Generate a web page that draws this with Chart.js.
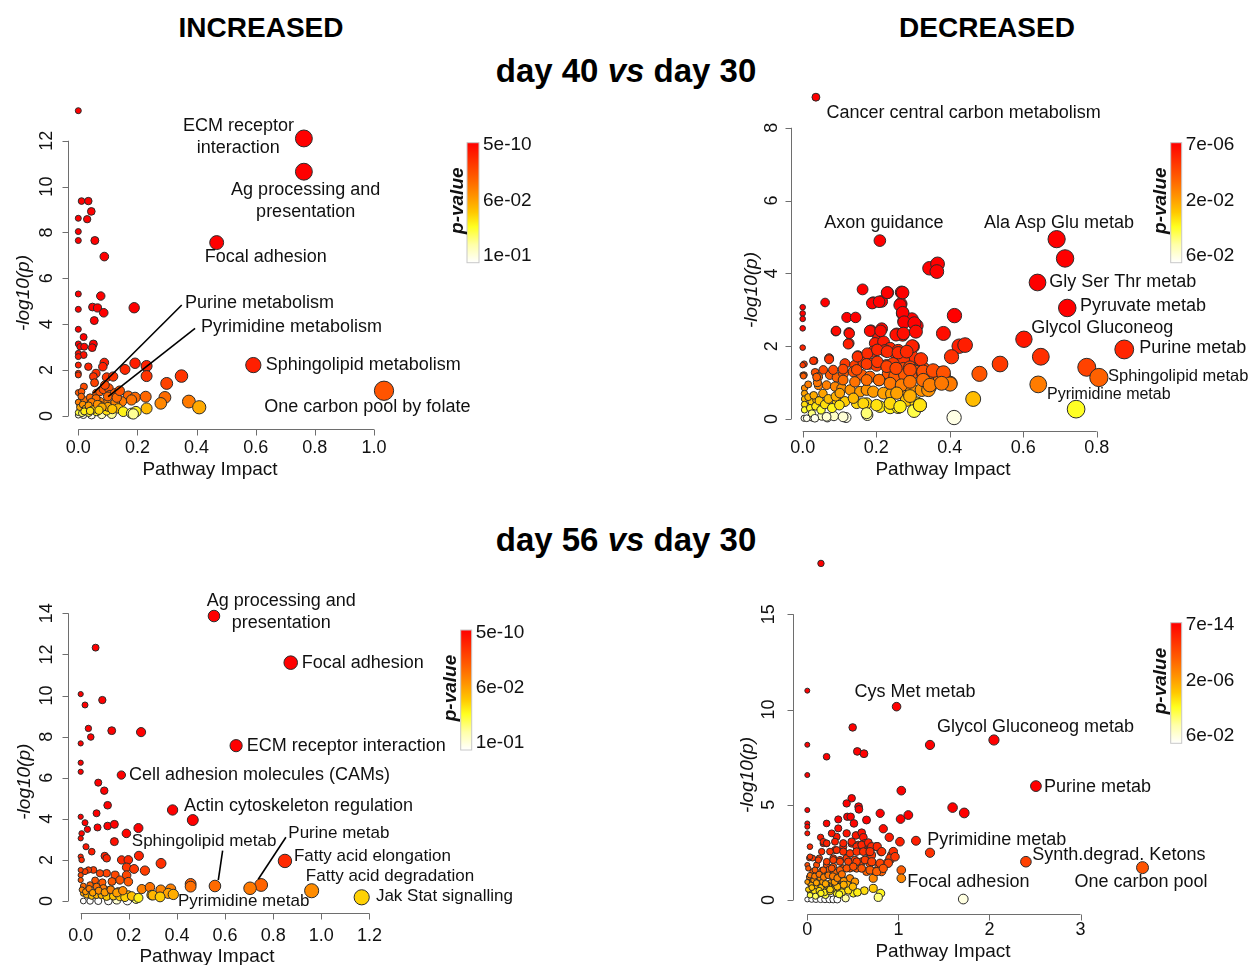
<!DOCTYPE html>
<html><head><meta charset="utf-8">
<script src="https://cdn.jsdelivr.net/npm/chart.js@4.4.1/dist/chart.umd.min.js"></script>
<style>
html,body{margin:0;padding:0;background:#fff;}
body{width:1253px;height:965px;overflow:hidden;position:relative;font-family:"Liberation Sans",Arial,sans-serif;color:#000;}
.t{position:absolute;font-weight:bold;white-space:nowrap;line-height:1;transform:translateX(-50%);}
canvas{position:absolute;left:0;top:0;}
</style></head>
<body>
<div class="t" style="left:261px;top:14px;font-size:28px">INCREASED</div>
<div class="t" style="left:987px;top:14px;font-size:28px">DECREASED</div>
<div class="t" style="left:626px;top:54px;font-size:33px">day 40 <i>vs</i> day 30</div>
<div class="t" style="left:626px;top:523px;font-size:33px">day 56 <i>vs</i> day 30</div>
<canvas id="c1" width="1253" height="965"></canvas>
<canvas id="c2" width="1253" height="965"></canvas>
<canvas id="c3" width="1253" height="965"></canvas>
<canvas id="c4" width="1253" height="965"></canvas>
<script>
// ================= DATA =================
// Panel 1: INCREASED, day 40 vs day 30
const inc40X = [0.763,0.763,0.468,0.592,1.034,0,
 0.011,0.034,0.044,0,0.03,0,0,0.056,0.088,
 0,0.076,0,0.048,0.065,0.086,0.189,0.054,
 0,0.018,0,0.006,0.02,0.051,0.047,0,0.018,0,
 0.034,0,0,0,0.088,0.083,0.192,0.231,0.231,0.158,0.06,0.051,0.096,0.118,0.349,0.299,0.019,0.055,
 0,0.011,0.062,0.073,0.085,0.103,0.107,0.124,0.169,0.192,0.18,0.228,0.293,0.279,0.374,0.409,0.231,0.147,0.124,0.096,0.073,0.051,
 0.09,0.1,0.13,0.14,
 0.135,0.152,0.18,0.195,0.186,0.113,0.079,0.045,0.017,0,
 0.006,0.011,0.023,0.03,0.04,0.053,0.068,0.085,0.028,0.006,0.062,0.096,0,0,0.012,0.035,0.02,0.04,0.01,0.06,0.1,0.115,0.075,0.045,
 0.005,0.015,0.025,0.035,0.05,0.065,0.08,0.02,0.04,0.07];
const inc40Y = [12.1,10.65,7.56,2.22,1.10,13.31,
 9.37,9.37,8.92,8.62,8.58,8.04,7.65,7.65,6.95,
 5.32,5.23,4.65,4.75,4.71,4.5,4.72,4.16,
 3.78,3.44,3.14,3.02,3.02,3.14,2.98,2.73,2.66,2.59,
 2.15,2.22,1.86,1.79,2.33,2.15,2.30,2.18,1.74,2.03,1.86,1.72,1.69,1.72,1.74,1.42,1.28,1.45,
 1.02,1.06,0.99,1.06,1.16,1.21,0.92,0.99,0.87,0.81,0.7,0.84,0.81,0.55,0.63,0.38,0.33,0.63,0.55,0.55,0.63,0.55,
 1.35,0.85,0.8,1.1,
 0.33,0.19,0.12,0.19,0.09,0.09,0.07,0.04,0.04,0.04,
 0.48,0.33,0.41,0.55,0.33,0.41,0.29,0.33,0.23,0.26,0.19,0.23,0.6,0.15,0.12,0.14,0.7,0.8,0.85,0.75,0.4,0.3,0.45,0.6,
 0.38,0.5,0.32,0.45,0.28,0.5,0.38,0.2,0.22,0.25];

// Panel 2: DECREASED, day 40 vs day 30
const dec40X = [0.036,0.21,0.691,0.714,0.639,0.72,0.602,0.875,0.648,0.773,0.806,0.641,0.744,0.537,0.481,0.464,0.412,
 0.345,0.367,0.365,0.413,0.383,0.426,0.442,0.405,0.3,0.163,0.061,0.192,0.215,0.231,0.269,0.267,0.272,0.276,0.297,0.31,0.272,0.256,0.12,0.144,0.126,0.126,0.09,0.186,0.215,0.206,0.197,0.22,0.238,0.224,0.26,0.256,0.15,0.192,0.319,0.297,0.274,0.031,0.072,
 0.115,0.142,0.165,0.183,0.201,0.228,0.246,0.274,0.292,0.31,0.328,
 0.004,0.004,0.034,0.043,
 0.074,0.093,0.111,0.138,0.161,0.183,0.208,0.233,0.251,0.278,0.306,0.328,0.346,0.376,0.383,0.401,0.346,0.374,
 0.043,0.065,0.088,0.106,0.129,0.156,0.174,0.192,0.22,0.242,0.274,0.297,0.324,0.342,
 0.024,0.038,0.065,0.093,0.115,0.147,0.174,0.21,0.238,0.26,0.283,0.31,0.303,0.319,
 0.004,0.027,0.052,0.067,0.085,0.118,0.176,
 0,0,0,0,0,0,0,
 0.005,0.005,0.005,0.005,0.005,0.015,0.02,0.025,0.03,0.035,0.045,0.05,0.055,0.06,0.07,0.08,0.09,0.1,0.015,0.04,
 0.189,0.208,0.23,0.272,0.265,0.272,0.276,0.304,0.308,0.183,0.212,0.254,0.274,0.298,0.127,0.124,0.091,
 0.149,0.176,0.203,0.23,0.26,0.283,0.322,0.072,0.029,
 0.11,0.147,0.174,0.203,0.229,0.254,0.292,0.328,0.355,0.383,0.401,0.002,0.038,0.083,0.056,
 0.11,0.142,0.174,0.208,0.238,0.269,0.292,0.328,0.346,0.378,
 0.101,0.138,0.165,0.201,0.238,0.265,0.292,0.319,0.256,
 0.011,0.033,0.065,0.11,0.174];
const dec40Y = [8.84,4.9,4.94,4.41,3.75,3.05,2.19,1.91,1.71,1.42,1.14,0.95,0.27,1.51,1.24,0.55,0.04,
 4.14,4.26,4.05,2.84,2.35,2.0,2.03,1.71,1.99,3.56,3.2,3.2,3.23,3.47,3.48,3.16,2.9,2.69,2.74,2.56,2.31,2.33,2.79,2.79,2.37,2.08,2.41,2.43,2.48,2.24,2.08,2.12,1.94,1.88,1.88,1.76,1.73,1.85,1.62,1.71,1.62,1.6,1.67,
 1.52,1.47,1.56,1.52,1.47,1.47,1.52,1.38,1.42,1.33,1.38,
 1.51,1.21,1.28,1.16,
 1.21,1.14,1.25,1.30,1.21,1.16,1.07,1.25,1.18,1.21,1.30,1.25,1.16,1.25,1.18,0.98,0.89,1.07,
 0.92,0.93,0.89,0.84,0.80,0.75,0.80,0.75,0.71,0.69,0.84,0.80,0.80,0.80,
 0.48,0.52,0.43,0.48,0.48,0.43,0.43,0.34,0.31,0.32,0.52,0.43,0.22,0.38,
 0.02,0.04,0.08,0.04,0.08,0.04,0.11,
 3.07,2.9,2.75,2.49,1.96,1.48,1.21,
 0.85,0.7,0.55,0.4,0.25,0.6,0.3,0.15,0.65,0.35,0.5,0.25,0.7,0.4,0.55,0.3,0.62,0.38,0.95,1.0,
 3.18,3.22,3.47,3.47,3.13,2.92,2.66,2.63,2.40,2.42,2.42,2.31,2.35,2.0,2.35,2.06,2.42,
 1.71,1.80,1.90,1.85,1.82,1.85,1.64,1.64,1.60,
 1.37,1.35,1.51,1.57,1.44,1.39,1.35,1.30,1.33,1.27,0.96,1.18,1.15,1.35,1.35,
 1.07,1.02,1.07,1.07,0.98,0.93,1.02,1.07,0.93,0.98,
 0.71,0.57,0.43,0.38,0.43,0.34,0.63,0.38,0.71,
 0.02,0.02,0.06,0.06,0.16];

// Panel 3: INCREASED, day 56 vs day 30
const inc56X = [0.554,0.873,0.646,0.169,0.382,0.466,0.849,0.75,0.704,0.558,0.457,0.457,0.96,1.168,
 0.062,0,0.018,0.09,0.032,0.042,0.129,0.251,0,0,0,0.073,0.098,0.112,0.066,0,0.018,0.028,0.004,0,0.07,0.112,0.14,0.24,0.19,0.14,0.022,0.046,0,0.004,0.1,0.108,0.17,0.198,0.242,0.334,0.191,0.222,0.267,
 0.191,0.143,0.108,0.08,0.053,0.032,0.018,0,0,0,0.198,0.163,0.06,0.09,0.13,
 0.254,0.288,0.333,0.374,0.364,0.385,0.295,0.233,0.198,0.157,0.122,0.094,0.066,0.039,0.011,
 0.011,0.039,0.073,0.115,0.15,0.194,0.23,
 0.011,0.025,0.046,0.066,0.087,0.108,0.136,0.163,0.184,0.212,0.3,0.33,0.24,
 0.005,0.02,0.035,0.05,0.075,0.1,0.125,0.15,0.175];
const inc56Y = [13.87,11.6,7.56,6.13,4.43,3.94,1.95,0.78,0.62,0.73,0.83,0.70,0.5,0.18,
 12.33,10.07,9.54,9.78,8.4,7.98,8.29,8.22,7.67,6.73,6.29,5.76,5.37,4.66,4.27,4.1,3.81,3.49,3.29,3.05,3.58,3.65,3.73,3.55,3.29,2.89,2.64,2.4,2.16,2.0,2.19,2.08,2.0,2.0,2.2,1.83,1.64,1.56,1.48,
 1.26,1.26,1.35,1.35,1.51,1.51,1.43,1.51,1.26,1.02,0.94,1.02,1.0,0.9,0.95,
 0.58,0.67,0.54,0.58,0.37,0.32,0.29,0.13,0.29,0.45,0.54,0.62,0.70,0.78,0.73,
 0,0,0,0,0.05,0.02,0.1,
 0.37,0.29,0.24,0.29,0.29,0.21,0.24,0.21,0.18,0.24,0.28,0.2,0.15,
 0.55,0.45,0.6,0.4,0.5,0.42,0.55,0.4,0.5];

// Panel 4: DECREASED, day 56 vs day 30
const dec56X = [0.15,0.98,0.498,2.049,1.347,0.549,0.622,0.212,2.51,1.032,1.595,1.723,1.024,1.109,0.80,0.834,0.9,1.193,1.347,1.017,2.4,3.68,1.032,1.032,1.712,
 0,0,0,0,0,0,0,
 0.487,0.432,0.563,0.567,0.439,0.476,0.512,0.65,0.34,0.212,
 0.34,0.432,0.534,0.597,0.615,0.146,0.176,0.212,0.322,0.029,
 0.304,0.395,0.487,0.56,0.633,0.659,0.706,0.761,0.809,0.615,
 0.022,0.059,0.132,
 0.285,0.359,0.432,0.523,0.596,0.688,0.787,0.907,0.926,0.944,0.871,
 0,0.102,0.212,0.285,0.395,0.468,0.541,0.651,0.743,0.816,0.724,
 0.029,0.102,0.176,0.249,0.322,0.395,0.468,0.523,0.45,0.377,0.285,0.194,0.102,0.029,0.322,0.505,0.626,0.724,0.805,0.779,0.421,
 0,0.048,0.095,0.146,0.194,0.242,0.285,0.329,
 0.02,0.06,0.1,0.14,0.18,0.22,0.26,0.05,0.12,0.2,0.28,0.32,0.06,0.16,0.24,0.3,0.36,0.4,0.44,
 0.01,0.04,0.08,0.11,0.15,0.19,0.23,0.27,0.31,0.35,0.07,0.13,0.17,0.21,0.25,0.29,0.33,0.38,0.03,0.09,
 0.268,0.176,0.213,0.304,0.395,0.487,0.542,0.597,0.67,0.707,
 0.158,0.249,0.323,0.395,0.469,0.542,0.615,0.688,0.768,0.817,0.908,0.963,
 0.03,0.121,0.213,0.285,0.359,0.45,0.542,0.633,0.707,0.798,0.889,
 0.011,0.085,0.176,0.268,0.359,0.432,0.505,0.597,0.688,0.762,0.834,
 0.0,0.05,0.1,0.15,0.2,0.25,0.3,0.35,0.4,0.45,0.5,0.55,0.03,0.08,0.13,0.18,0.23,0.28,0.33,0.38];
const dec56Y = [17.67,10.15,9.06,8.4,8.14,7.8,7.68,7.52,5.98,5.74,4.85,4.57,4.25,4.46,4.55,3.74,3.29,3.11,2.48,3.06,2.01,1.70,1.57,1.14,0.05,
 10.99,8.15,6.56,4.72,4.02,3.85,3.5,
 5.34,5.07,4.9,4.76,4.37,4.37,4.02,4.2,4.23,4.02,
 3.76,3.5,3.39,3.53,3.29,3.29,2.97,2.97,3.32,2.8,
 2.62,2.8,2.97,2.89,2.97,2.54,2.36,2.8,2.54,2.62,
 2.2,2.2,2.2,
 2.19,2.10,2.19,2.10,2.01,1.92,1.84,2.10,2.36,2.54,1.92,
 1.84,1.84,1.84,1.75,1.66,1.66,1.66,1.49,1.49,1.49,1.14,
 0.87,0.87,0.79,0.87,0.96,1.05,1.14,0.96,0.7,0.61,0.52,0.44,0.52,0.44,0.35,0.35,0.49,0.61,0.35,0.14,0.09,
 0.03,0.03,0.03,0.03,0.03,0.03,0.03,0.03,
 1.2,1.0,0.7,1.1,0.6,1.3,0.9,0.6,0.3,0.25,0.7,1.2,1.5,1.55,1.6,1.45,1.3,1.0,0.8,
 0.55,0.8,0.45,0.9,0.65,0.4,0.75,0.55,0.85,0.6,1.05,0.5,0.95,0.8,0.45,1.15,0.7,0.4,0.25,0.2,
 3.5,3.06,2.98,3.06,2.98,3.06,2.8,2.89,3.01,2.8,
 2.54,2.54,2.62,2.54,2.45,2.54,2.54,2.54,2.8,2.54,2.19,2.27,
 2.27,2.1,2.01,2.1,2.01,2.01,2.01,2.1,2.01,1.93,1.93,
 1.66,1.57,1.57,1.66,1.57,1.66,1.75,1.66,1.57,1.49,1.66,
 0.95,0.65,0.9,0.35,0.85,0.55,0.95,0.3,0.8,0.5,0.7,0.4,1.3,1.25,1.35,1.2,1.3,1.25,1.15,1.35];

// Tick values and labels
const inc40XTicks = [0,0.2,0.4,0.6,0.8,1.0];
const inc40XLabels = ['0.0','0.2','0.4','0.6','0.8','1.0'];
const inc40YTicks = [0,2,4,6,8,10,12];
const dec40XTicks = [0,0.2,0.4,0.6,0.8];
const dec40XLabels = ['0.0','0.2','0.4','0.6','0.8'];
const dec40YTicks = [0,2,4,6,8];
const inc56XTicks = [0,0.2,0.4,0.6,0.8,1.0,1.2];
const inc56XLabels = ['0.0','0.2','0.4','0.6','0.8','1.0','1.2'];
const inc56YTicks = [0,2,4,6,8,10,12,14];
const dec56XTicks = [0,1,2,3];
const dec56XLabels = ['0','1','2','3'];
const dec56YTicks = [0,5,10,15];

// Colour-bar labels (top, middle, bottom)
const inc40Bar = ['5e-10','6e-02','1e-01'];
const dec40Bar = ['7e-06','2e-02','6e-02'];
const inc56Bar = ['5e-10','6e-02','1e-01'];
const dec56Bar = ['7e-14','2e-06','6e-02'];

// Pathway labels [text, x, y (data units), align, font size]
const inc40Names = [
 ['ECM receptor',0.542,12.64,'center'],['interaction',0.541,11.67,'center'],
 ['Ag processing and',0.769,9.85,'center'],['presentation',0.769,8.88,'center'],
 ['Focal adhesion',0.634,6.94,'center'],
 ['Purine metabolism',0.361,4.91,'left'],['Pyrimidine metabolism',0.415,3.87,'left'],
 ['Sphingolipid metabolism',0.634,2.21,'left'],['One carbon pool by folate',0.629,0.405,'left']];
const inc40Leaders = [[0.35,4.84,0.0507,0.99],[0.395,3.82,0.101,0.84]];
const dec40Names = [
 ['Cancer central carbon metabolism',0.065,8.40,'left'],
 ['Axon guidance',0.221,5.39,'center'],['Ala Asp Glu metab',0.6975,5.39,'center'],
 ['Gly Ser Thr metab',0.671,3.77,'left'],['Pyruvate metab',0.7546,3.10,'left'],
 ['Glycol Gluconeog',0.815,2.49,'center'],['Purine metab',0.916,1.96,'left'],
 ['Sphingolipid metab',0.831,1.16,'left',16.5],['Pyrimidine metab',0.833,0.68,'center',16]];
const dec40Leaders = [];
const inc56Names = [
 ['Ag processing and',0.834,14.6,'center'],['presentation',0.834,13.51,'center'],
 ['Focal adhesion',0.9185,11.57,'left'],['ECM receptor interaction',0.69,7.54,'left'],
 ['Cell adhesion molecules (CAMs)',0.2007,6.13,'left'],['Actin cytoskeleton regulation',0.4293,4.64,'left'],
 ['Sphingolipid metab',0.513,2.89,'center',17],['Purine metab',0.863,3.29,'left',17],
 ['Fatty acid elongation',0.8865,2.19,'left',17],['Fatty acid degradation',0.936,1.18,'left',17],
 ['Pyrimidine metab',0.6775,0.0,'center',17],['Jak Stat signalling',1.227,0.21,'left',17]];
const inc56Leaders = [[0.59,2.45,0.572,1.02],[0.853,3.10,0.738,1.06]];
const dec56Names = [
 ['Cys Met metab',1.182,10.94,'center'],['Glycol Gluconeog metab',2.505,9.10,'center'],
 ['Purine metab',2.598,5.95,'left'],['Pyrimidine metab',1.317,3.15,'left'],
 ['Synth.degrad. Ketons',2.47,2.36,'left'],['Focal adhesion',1.098,0.96,'left'],
 ['One carbon pool',3.663,0.96,'center']];
const dec56Leaders = [];

// ================= STYLE =================
const W = 1253, H = 965;
const FONT = '"Liberation Sans", Arial, Helvetica, sans-serif';
const GRAD = [[0,[255,0,0]],[0.15,[255,48,0]],[0.3,[255,96,0]],[0.45,[255,149,0]],[0.58,[255,200,0]],[0.7,[255,255,32]],[0.85,[255,255,168]],[1,[255,255,255]]];
function gradAt(t){
  t = Math.max(0, Math.min(1, t));
  for (let i = 0; i < GRAD.length - 1; i++) {
    const a = GRAD[i], b = GRAD[i+1];
    if (t <= b[0]) {
      const f = (t - a[0]) / (b[0] - a[0]);
      const c = a[1].map((v,k)=>Math.round(v + (b[1][k]-v)*f));
      return 'rgb(' + c.join(',') + ')';
    }
  }
  return 'rgb(255,255,255)';
}
function tOfY(y, stops){
  if (y >= stops[0][0]) return stops[0][1];
  for (let i = 0; i < stops.length - 1; i++) {
    const a = stops[i], b = stops[i+1];
    if (y >= b[0]) return a[1] + (b[1]-a[1]) * (a[0]-y)/(a[0]-b[0]);
  }
  return stops[stops.length-1][1];
}

const panels = [
 {id:'c1', xs:inc40X, ys:inc40Y, xTicks:inc40XTicks, xLabels:inc40XLabels, yTicks:inc40YTicks, bar:inc40Bar, names:inc40Names, leaders:inc40Leaders,
  xmin:-0.035, xmax:1.08, ymin:-0.567, ymax:13.75, L:67.95, R:397.6, T:100.6, B:429,
  xLabOff:19, yLabOff:21, xTitle:[210,470], yTitle:[24,293], box:{x:467,y:142.7,w:12,h:120},
  rad:x=>3+6.5*Math.pow(Math.max(x,0),0.65),
  stops:[[3.2,0],[2.2,0.1],[1.6,0.18],[1.0,0.28],[0.6,0.38],[0.35,0.52],[0.2,0.66],[0.1,0.8],[0.03,1]]},
 {id:'c2', xs:dec40X, ys:dec40Y, xTicks:dec40XTicks, xLabels:dec40XLabels, yTicks:dec40YTicks, bar:dec40Bar, names:dec40Names, leaders:dec40Leaders,
  xmin:-0.0318, xmax:0.91, ymin:-0.33, ymax:9.15, L:791, R:1137.1, T:85.9, B:431,
  xLabOff:17, yLabOff:19.3, xTitle:[943,470], yTitle:[751.7,290], box:{x:1170.7,y:142.7,w:11,h:120},
  rad:x=>2.8+6.6*Math.pow(Math.max(x,0)/0.87,0.55),
  stops:[[2.6,0],[2.0,0.1],[1.5,0.18],[1.2,0.28],[0.9,0.4],[0.55,0.55],[0.3,0.68],[0.15,0.8],[0.03,0.97]]},
 {id:'c3', xs:inc56X, ys:inc56Y, xTicks:inc56XTicks, xLabels:inc56XLabels, yTicks:inc56YTicks, bar:inc56Bar, names:inc56Names, leaders:inc56Leaders,
  xmin:-0.0515, xmax:1.22, ymin:-0.584, ymax:14.45, L:68.3, R:374.2, T:604.1, B:913,
  xLabOff:23, yLabOff:21.6, xTitle:[207,956.7], yTitle:[25,781.7], box:{x:460.7,y:630,w:11,h:120},
  rad:x=>2.6+5*Math.pow(Math.max(x,0)/1.17,0.6),
  stops:[[3.5,0],[2.0,0.12],[1.4,0.2],[0.8,0.3],[0.55,0.4],[0.3,0.52],[0.18,0.6],[0.1,0.78],[0.02,1]]},
 {id:'c4', xs:dec56X, ys:dec56Y, xTicks:dec56XTicks, xLabels:dec56XLabels, yTicks:dec56YTicks, bar:dec56Bar, names:dec56Names, leaders:dec56Leaders,
  xmin:-0.1537, xmax:3.85, ymin:-0.735, ymax:18.4, L:793.3, R:1158, T:549.5, B:914,
  xLabOff:16, yLabOff:24, xTitle:[943,951.7], yTitle:[748,775], box:{x:1170.7,y:622.7,w:11,h:120.6},
  rad:x=>2.5+3.5*Math.pow(Math.max(x,0)/3.7,0.5),
  stops:[[4.2,0],[3.0,0.1],[2.0,0.2],[1.5,0.3],[1.0,0.45],[0.6,0.58],[0.35,0.68],[0.1,0.82],[0.03,1]]}
];

function rPlugin(p){
  return {
    id:'rstyle_'+p.id,
    beforeDatasetsDraw(chart){
      const ctx = chart.ctx, a = chart.chartArea, sx = chart.scales.x, sy = chart.scales.y;
      ctx.save();
      ctx.strokeStyle = '#6e6e6e'; ctx.lineWidth = 1;
      const yb = Math.round(a.bottom) + 0.5;
      ctx.beginPath();
      ctx.moveTo(sx.getPixelForValue(p.xTicks[0]), yb);
      ctx.lineTo(sx.getPixelForValue(p.xTicks[p.xTicks.length-1]), yb);
      p.xTicks.forEach(v=>{ const px = Math.round(sx.getPixelForValue(v))+0.5; ctx.moveTo(px,yb); ctx.lineTo(px,yb+6); });
      ctx.stroke();
      const xl = Math.round(a.left) + 0.5;
      ctx.beginPath();
      ctx.moveTo(xl, sy.getPixelForValue(p.yTicks[0]));
      ctx.lineTo(xl, sy.getPixelForValue(p.yTicks[p.yTicks.length-1]));
      p.yTicks.forEach(v=>{ const py = Math.round(sy.getPixelForValue(v))+0.5; ctx.moveTo(xl,py); ctx.lineTo(xl-6,py); });
      ctx.stroke();
      ctx.fillStyle = '#111';
      ctx.font = '18px ' + FONT;
      ctx.textAlign = 'center'; ctx.textBaseline = 'middle';
      p.xTicks.forEach((v,i)=>ctx.fillText(p.xLabels[i], sx.getPixelForValue(v), a.bottom + p.xLabOff));
      p.yTicks.forEach(v=>{
        ctx.save(); ctx.translate(a.left - p.yLabOff, sy.getPixelForValue(v)); ctx.rotate(-Math.PI/2);
        ctx.fillText(String(v), 0, 0); ctx.restore();
      });
      ctx.font = '19px ' + FONT;
      ctx.fillText('Pathway Impact', p.xTitle[0], p.xTitle[1]);
      ctx.save(); ctx.translate(p.yTitle[0], p.yTitle[1]); ctx.rotate(-Math.PI/2);
      ctx.font = 'italic 19px ' + FONT; ctx.fillText('-log10(p)', 0, 0); ctx.restore();
      ctx.restore();
    },
    afterDatasetsDraw(chart){
      const ctx = chart.ctx, sx = chart.scales.x, sy = chart.scales.y;
      ctx.save();
      ctx.strokeStyle = '#000'; ctx.lineWidth = 1.6;
      p.leaders.forEach(l=>{
        ctx.beginPath();
        ctx.moveTo(sx.getPixelForValue(l[0]), sy.getPixelForValue(l[1]));
        ctx.lineTo(sx.getPixelForValue(l[2]), sy.getPixelForValue(l[3]));
        ctx.stroke();
      });
      ctx.fillStyle = '#111'; ctx.textBaseline = 'middle';
      p.names.forEach(n=>{
        ctx.font = (n[4] || 18) + 'px ' + FONT;
        ctx.textAlign = n[3];
        ctx.fillText(n[0], sx.getPixelForValue(n[1]), sy.getPixelForValue(n[2]));
      });
      const b = p.box;
      const g = ctx.createLinearGradient(0, b.y, 0, b.y + b.h);
      GRAD.forEach(s=>g.addColorStop(s[0], 'rgb(' + s[1].join(',') + ')'));
      ctx.fillStyle = g;
      ctx.fillRect(b.x, b.y, b.w, b.h);
      ctx.strokeStyle = '#c8c8c8'; ctx.lineWidth = 1;
      ctx.strokeRect(b.x, b.y, b.w, b.h);
      ctx.fillStyle = '#111'; ctx.font = '19px ' + FONT; ctx.textAlign = 'left'; ctx.textBaseline = 'middle';
      [0.02, 0.48, 0.94].forEach((f,i)=>ctx.fillText(p.bar[i], b.x + b.w + 4, b.y + f*b.h));
      ctx.save(); ctx.translate(b.x - 9.5, b.y + b.h/2 - 2); ctx.rotate(-Math.PI/2);
      ctx.font = 'bold italic 19px ' + FONT; ctx.textAlign = 'center';
      ctx.fillText('p-value', 0, 0); ctx.restore();
      ctx.restore();
    }
  };
}

panels.forEach(p=>{
  const pts = p.xs.map((x,i)=>({x:x, y:p.ys[i]}));
  new Chart(document.getElementById(p.id), {
    type:'scatter',
    data:{datasets:[{
      data:pts,
      clip:false,
      pointRadius:c=>c.raw ? p.rad(c.raw.x) : 3,
      pointHoverRadius:c=>c.raw ? p.rad(c.raw.x) : 3,
      pointBackgroundColor:c=>c.raw ? gradAt(tOfY(c.raw.y, p.stops)) : '#f00',
      pointBorderColor:'#2b2b2b',
      pointBorderWidth:1
    }]},
    options:{
      responsive:false, maintainAspectRatio:false, animation:false, events:[],
      devicePixelRatio:1,
      layout:{padding:{left:p.L, right:W-p.R, top:p.T, bottom:H-p.B}},
      scales:{
        x:{type:'linear', display:false, min:p.xmin, max:p.xmax},
        y:{type:'linear', display:false, min:p.ymin, max:p.ymax}
      },
      plugins:{legend:{display:false}, tooltip:{enabled:false}, title:{display:false}}
    },
    plugins:[rPlugin(p)]
  });
});
</script>
</body></html>
